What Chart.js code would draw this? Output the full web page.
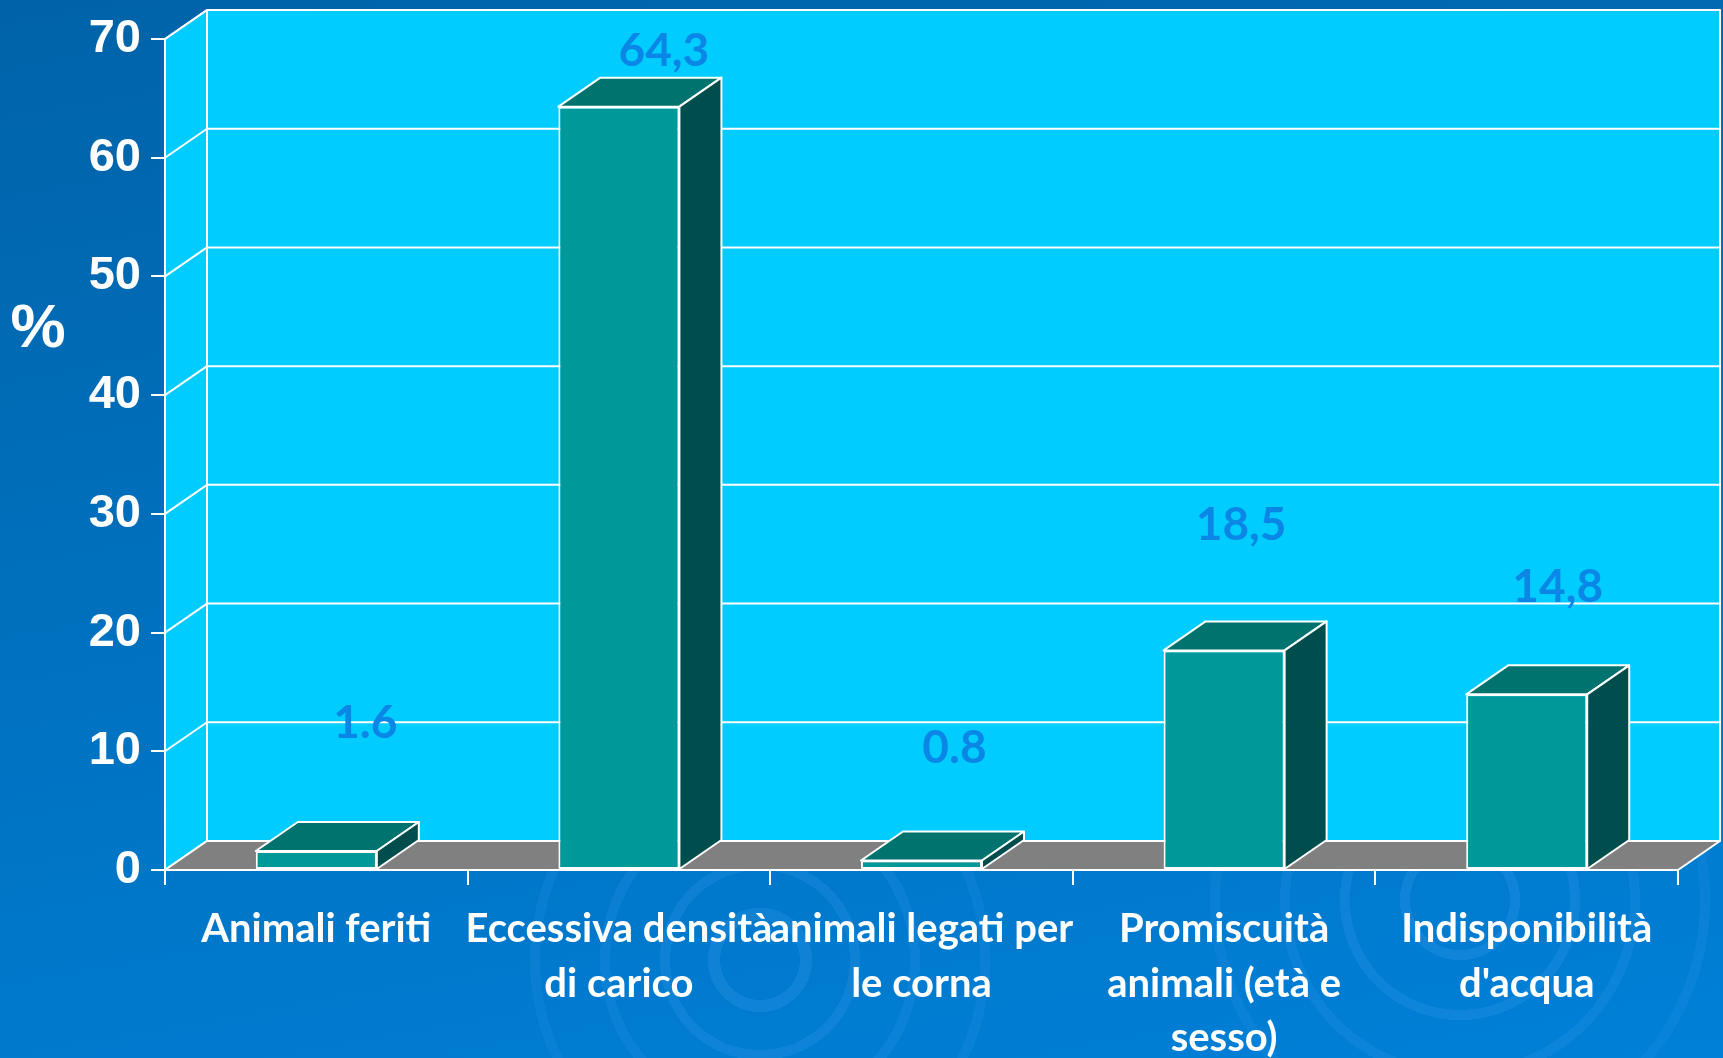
<!DOCTYPE html>
<html>
<head>
<meta charset="utf-8">
<script src="https://cdn.jsdelivr.net/npm/chart.js@4.4.1/dist/chart.umd.min.js"></script>
<style>
  body { margin: 0; overflow: hidden; }
  #wrap {
    width: 1723px; height: 1058px; position: relative;
    background:
      radial-gradient(circle at 760px 960px, transparent 0 40px, rgba(70,160,240,0.22) 40px 52px, transparent 52px 90px, rgba(70,160,240,0.2) 90px 100px, transparent 100px 150px, rgba(70,160,240,0.16) 150px 160px, transparent 160px 220px, rgba(70,160,240,0.13) 220px 230px, transparent 230px),
      radial-gradient(circle at 1460px 900px, transparent 0 50px, rgba(70,160,240,0.22) 50px 60px, transparent 60px 110px, rgba(70,160,240,0.2) 110px 120px, transparent 120px 170px, rgba(70,160,240,0.16) 170px 180px, transparent 180px 240px, rgba(70,160,240,0.13) 240px 250px, transparent 250px),
      linear-gradient(170deg, #0063a9 0%, #0070bd 45%, #0080d8 100%);
  }
</style>
</head>
<body>
<div id="wrap"><canvas id="myChart"></canvas></div>
<script>
let categories = [
    ["Animali feriti"],
    ["Eccessiva densità", "di carico"],
    ["animali legati per", "le corna"],
    ["Promiscuità", "animali (età e", "sesso)"],
    ["Indisponibilità", "d'acqua"]
];
let values = [1.6, 64.3, 0.8, 18.5, 14.8];
let valueLabels = ["1.6", "64,3", "0.8", "18,5", "14,8"];
let yTicks = [0, 10, 20, 30, 40, 50, 60, 70];

// where each value label sits, relative to the top of its bar (px)
let labelShift = [[49, -128], [45, -55], [33, -112], [17, -125], [31, -107]];

const DX = 42, DY = 29;

function poly(ctx, pts, fill) {
    ctx.beginPath();
    ctx.moveTo(pts[0][0], pts[0][1]);
    for (let i = 1; i < pts.length; i++) ctx.lineTo(pts[i][0], pts[i][1]);
    ctx.closePath();
    ctx.fillStyle = fill;
    ctx.fill();
    ctx.stroke();
}

let box3d = {
    id: 'box3d',
    beforeDraw(chart) {
        const ctx = chart.ctx, a = chart.chartArea, y = chart.scales.y;
        ctx.save();
        ctx.lineWidth = 2;
        ctx.strokeStyle = '#ffffff';
        ctx.lineJoin = 'round';

        // side wall and back wall
        poly(ctx, [[a.left, a.top], [a.left + DX, a.top - DY], [a.left + DX, a.bottom - DY], [a.left, a.bottom]], '#00ccff');
        poly(ctx, [[a.left + DX, a.top - DY], [a.right + DX, a.top - DY], [a.right + DX, a.bottom - DY], [a.left + DX, a.bottom - DY]], '#00ccff');

        yTicks.forEach(v => {
            let py = y.getPixelForValue(v);
            ctx.beginPath();
            ctx.moveTo(a.left, py);
            ctx.lineTo(a.left + DX, py - DY);
            ctx.lineTo(a.right + DX, py - DY);
            ctx.stroke();
        });

        // floor
        poly(ctx, [[a.left, a.bottom], [a.right, a.bottom], [a.right + DX, a.bottom - DY], [a.left + DX, a.bottom - DY]], '#808080');
        ctx.restore();
    },
    afterDatasetsDraw(chart) {
        const ctx = chart.ctx;
        const bars = chart.getDatasetMeta(0).data;
        ctx.save();
        ctx.lineWidth = 2;
        ctx.strokeStyle = '#ffffff';
        ctx.lineJoin = 'round';

        bars.forEach(b => {
            let x0 = b.x - b.width / 2, x1 = b.x + b.width / 2;
            poly(ctx, [[x0, b.y], [x0 + DX, b.y - DY], [x1 + DX, b.y - DY], [x1, b.y]], '#00736f');
            poly(ctx, [[x1, b.y], [x1 + DX, b.y - DY], [x1 + DX, b.base - DY], [x1, b.base]], '#004d4d');
        });

        ctx.fillStyle = '#0a86e6';
        ctx.font = 'bold 46px Lato';
        ctx.textAlign = 'center';
        ctx.textBaseline = 'middle';
        bars.forEach((b, i) => {
            ctx.fillText(valueLabels[i], b.x + labelShift[i][0], b.y + labelShift[i][1]);
        });

        ctx.fillStyle = '#ffffff';
        ctx.font = 'bold 62px "Liberation Sans", Arial';
        ctx.fillText('%', 38, 330);
        ctx.restore();
    }
};

let myChart = new Chart(document.getElementById('myChart'), {
    type: 'bar',
    data: {
        labels: categories,
        datasets: [{
            data: values,
            backgroundColor: '#009999',
            borderColor: '#ffffff',
            borderWidth: 2,
            borderSkipped: false,
            categoryPercentage: 1,
            barPercentage: 0.4
        }]
    },
    options: {
        responsive: true,
        maintainAspectRatio: false,
        animation: false,
        layout: { padding: { top: 39, right: 45, left: 0, bottom: 0 } },
        plugins: {
            legend: { display: false },
            tooltip: { enabled: false }
        },
        scales: {
            x: {
                afterFit: s => { s.height = 188; },
                grid: { drawOnChartArea: false, tickLength: 15, color: '#ffffff', lineWidth: 2 },
                border: { color: '#ffffff', width: 2 },
                ticks: {
                    autoSkip: false,
                    maxRotation: 0,
                    minRotation: 0,
                    padding: 17,
                    color: '#ffffff',
                    font: { family: '"Comic Sans MS", Lato', size: 40, weight: 'bold', lineHeight: 1.36 }
                }
            },
            y: {
                min: 0,
                max: 70,
                afterFit: s => { s.width = 165; },
                afterBuildTicks: s => { s.ticks = yTicks.map(v => ({ value: v })); },
                grid: { drawOnChartArea: false, tickLength: 14, color: '#ffffff', lineWidth: 2 },
                border: { color: '#ffffff', width: 2 },
                ticks: {
                    padding: 10,
                    color: '#ffffff',
                    font: { family: '"Liberation Sans", Arial', size: 47, weight: 'bold' }
                }
            }
        }
    },
    plugins: [box3d]
});
</script>
</body>
</html>
